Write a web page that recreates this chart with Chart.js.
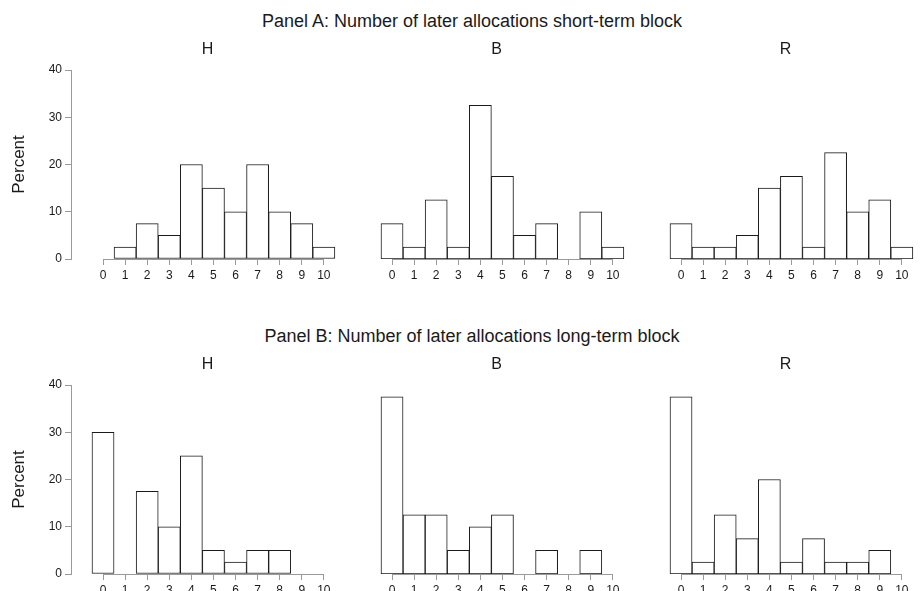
<!DOCTYPE html>
<html>
<head>
<meta charset="utf-8">
<script src="https://cdn.jsdelivr.net/npm/chart.js@4/dist/chart.umd.min.js"></script>
<style>
html, body { margin:0; padding:0; background:#fff; overflow:hidden; width:921px; height:591px; position:relative; }
.ttl { position:absolute; left:0; width:944px; text-align:center; font-family:'Liberation Sans', Arial, sans-serif; font-size:18px; color:#1a1a1a; line-height:22px; }
canvas { position:absolute; }
</style>
</head>
<body>
<div class="ttl" id="titleA" style="top:10px"></div>
<div class="ttl" id="titleB" style="top:325px"></div>
<canvas id="a0"></canvas><canvas id="a1"></canvas><canvas id="a2"></canvas>
<canvas id="b0"></canvas><canvas id="b1"></canvas><canvas id="b2"></canvas>
<script>
// ---- data ----
const categories = [0, 1, 2, 3, 4, 5, 6, 7, 8, 9, 10];
const tickLabels = ['0', '1', '2', '3', '4', '5', '6', '7', '8', '9', '10'];
const groupNames = ['H', 'B', 'R'];
const panelTitles = ['Panel A: Number of later allocations short-term block',
                     'Panel B: Number of later allocations long-term block'];
const yTicks = [0, 10, 20, 30, 40];
const shortH = [0, 2.5, 7.5, 5, 20, 15, 10, 20, 10, 7.5, 2.5];
const shortB = [7.5, 2.5, 12.5, 2.5, 32.5, 17.5, 5, 7.5, 0, 10, 2.5];
const shortR = [7.5, 2.5, 2.5, 5, 15, 17.5, 2.5, 22.5, 10, 12.5, 2.5];
const longH = [30, 0, 17.5, 10, 25, 5, 2.5, 5, 5, 0, 0];
const longB = [37.5, 12.5, 12.5, 5, 10, 12.5, 0, 5, 0, 5, 0];
const longR = [37.5, 2.5, 12.5, 7.5, 20, 2.5, 7.5, 2.5, 2.5, 5, 0];

document.getElementById('titleA').textContent = panelTitles[0];
document.getElementById('titleB').textContent = panelTitles[1];

const FONT = "'Liberation Sans', Arial, sans-serif";
const AXIS_GREY = '#9a9a9a';
const INK = '#1a1a1a';
const CW = 397, CH = 257;

const xLine = {
  id: 'xLine',
  beforeDatasetsDraw(chart) {
    const xs = chart.scales.x, ys = chart.scales.y, ctx = chart.ctx;
    const py = Math.round(ys.getPixelForValue(0)) + 0.5;
    ctx.save();
    ctx.strokeStyle = AXIS_GREY;
    ctx.lineWidth = 1;
    ctx.beginPath();
    ctx.moveTo(xs.getPixelForValue(categories[0]), py);
    ctx.lineTo(xs.getPixelForValue(categories[categories.length - 1]), py);
    ctx.stroke();
    ctx.restore();
  }
};

function makeChart(id, left, top, values, name, showY) {
  const cv = document.getElementById(id);
  cv.width = CW; cv.height = CH;
  cv.style.left = left + 'px'; cv.style.top = top + 'px';
  cv.style.width = CW + 'px'; cv.style.height = CH + 'px';
  new Chart(cv, {
    type: 'bar',
    data: {
      datasets: [{
        data: categories.map((c, i) => ({ x: c, y: values[i] === 0 ? null : values[i] })),
        backgroundColor: '#ffffff',
        borderColor: INK,
        borderWidth: 1,
        borderSkipped: false,
        barPercentage: 1,
        categoryPercentage: 1
      }]
    },
    options: {
      responsive: false,
      animation: false,
      devicePixelRatio: 1,
      layout: { padding: 0 },
      plugins: {
        legend: { display: false },
        tooltip: { enabled: false },
        title: {
          display: true, text: name, color: INK,
          font: { family: FONT, size: 16, weight: 'normal' },
          padding: { top: 10.4, bottom: 10.4 }
        }
      },
      scales: {
        x: {
          type: 'linear', min: -1.45, max: 13.72, offset: false,
          afterBuildTicks: s => { s.ticks = categories.map(v => ({ value: v })); },
          afterFit: s => { s.height = 28; },
          ticks: {
            autoSkip: false, maxRotation: 0, padding: 3, color: INK,
            font: { family: FONT, size: 12 },
            callback: (v) => tickLabels[categories.indexOf(v)]
          },
          grid: { display: true, offset: false, drawOnChartArea: false, drawTicks: true, tickLength: 6, color: AXIS_GREY, lineWidth: 1 },
          border: { display: false }
        },
        y: {
          min: 0, max: 40,
          afterBuildTicks: s => { s.ticks = yTicks.map(v => ({ value: v })); },
          afterFit: s => { s.width = 62; },
          ticks: { display: showY, padding: 3, color: INK, font: { family: FONT, size: 12 } },
          grid: { display: showY, drawOnChartArea: false, drawTicks: true, tickLength: 6, color: AXIS_GREY, lineWidth: 1 },
          border: { display: showY, color: AXIS_GREY, width: 1 },
          title: { display: showY, text: 'Percent', color: INK, font: { family: FONT, size: 17 }, padding: { top: 0, bottom: 0 } }
        }
      }
    },
    plugins: [xLine]
  });
}

const lefts = [9, 298, 587];
const shortSets = [shortH, shortB, shortR];
const longSets = [longH, longB, longR];
for (let i = 0; i < 3; i++) {
  makeChart('a' + i, lefts[i], 30, shortSets[i], groupNames[i], i === 0);
  makeChart('b' + i, lefts[i], 345, longSets[i], groupNames[i], i === 0);
}
</script>
</body>
</html>
